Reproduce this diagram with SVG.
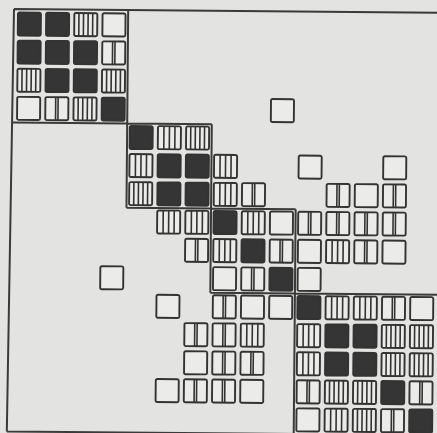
<svg xmlns="http://www.w3.org/2000/svg" width="437" height="433" viewBox="0 0 437 433">
<style>
.bx{fill:#ebebe9;stroke:#333;stroke-width:1.9}
.fl{fill:#353535;stroke:#333;stroke-width:1.9}
.st{fill:none;stroke:#333;stroke-width:1.6}
.fr{fill:none;stroke:#3a3a3a;stroke-width:2}
</style>
<defs>
<g id="E"><rect class="bx" x="0" y="0" width="23" height="23" rx="1.5"/></g>
<g id="F"><rect class="fl" x="0" y="0" width="23" height="23" rx="1.5"/></g>
<g id="A"><rect class="bx" x="0" y="0" width="23" height="23" rx="1.5"/><path class="st" d="M10.3 0V23M12.7 0V23"/></g>
<g id="B"><rect class="bx" x="0" y="0" width="23" height="23" rx="1.5"/><path class="st" d="M6 0V23M11.5 0V23M17 0V23"/></g>
<g id="C"><rect class="bx" x="0" y="0" width="23" height="23" rx="1.5"/><path class="st" d="M4.6 0V23M9.2 0V23M13.8 0V23M18.4 0V23"/></g>
</defs>
<rect x="0" y="0" width="437" height="433" fill="#e3e3e1"/>
<g transform="rotate(0.5 14 9)">
<g id="frame" class="fr">
<path d="M14 9H445M14 9L10.5 431.5M10.5 431.5H445"/>
<path d="M128.2 9V206.7M14 122.4H212.8M212.8 122.4V291M128.2 206.7H297.4M297.4 206.7V440M212.8 291H445"/>
</g>
<g id="block1">
<use id="r0c0" href="#F" x="18" y="12.5"/>
<use id="r0c1" href="#F" x="46.2" y="12.5"/>
<use id="r0c2" href="#C" x="74.4" y="12.5"/>
<use id="r0c3" href="#E" x="102.6" y="12.5"/>
<use id="r1c0" href="#F" x="18" y="40.6"/>
<use id="r1c1" href="#F" x="46.2" y="40.6"/>
<use id="r1c2" href="#F" x="74.4" y="40.6"/>
<use id="r1c3" href="#A" x="102.6" y="40.6"/>
<use id="r2c0" href="#C" x="18" y="68.7"/>
<use id="r2c1" href="#F" x="46.2" y="68.7"/>
<use id="r2c2" href="#F" x="74.4" y="68.7"/>
<use id="r2c3" href="#C" x="102.6" y="68.7"/>
<use id="r3c0" href="#E" x="18" y="96.8"/>
<use id="r3c1" href="#A" x="46.2" y="96.8"/>
<use id="r3c2" href="#C" x="74.4" y="96.8"/>
<use id="r3c3" href="#F" x="102.6" y="96.8"/>
</g>
<g id="block2">
<use id="r4c4" href="#F" x="130.8" y="124.9"/>
<use id="r4c5" href="#B" x="159" y="124.9"/>
<use id="r4c6" href="#C" x="187.2" y="124.9"/>
<use id="r5c4" href="#B" x="130.8" y="153"/>
<use id="r5c5" href="#F" x="159" y="153"/>
<use id="r5c6" href="#F" x="187.2" y="153"/>
<use id="r6c4" href="#C" x="130.8" y="181.1"/>
<use id="r6c5" href="#F" x="159" y="181.1"/>
<use id="r6c6" href="#F" x="187.2" y="181.1"/>
</g>
<g id="block3">
<use id="r7c7" href="#F" x="215.4" y="209.2"/>
<use id="r7c8" href="#B" x="243.6" y="209.2"/>
<use id="r7c9" href="#E" x="271.8" y="209.2"/>
<use id="r8c7" href="#B" x="215.4" y="237.3"/>
<use id="r8c8" href="#F" x="243.6" y="237.3"/>
<use id="r8c9" href="#A" x="271.8" y="237.3"/>
<use id="r9c7" href="#E" x="215.4" y="265.4"/>
<use id="r9c8" href="#A" x="243.6" y="265.4"/>
<use id="r9c9" href="#F" x="271.8" y="265.4"/>
</g>
<g id="block4">
<use id="r10c10" href="#F" x="300" y="293.5"/>
<use id="r10c11" href="#B" x="328.2" y="293.5"/>
<use id="r10c12" href="#B" x="356.4" y="293.5"/>
<use id="r10c13" href="#A" x="384.6" y="293.5"/>
<use id="r10c14" href="#E" x="412.8" y="293.5"/>
<use id="r11c10" href="#B" x="300" y="321.6"/>
<use id="r11c11" href="#F" x="328.2" y="321.6"/>
<use id="r11c12" href="#F" x="356.4" y="321.6"/>
<use id="r11c13" href="#C" x="384.6" y="321.6"/>
<use id="r11c14" href="#C" x="412.8" y="321.6"/>
<use id="r12c10" href="#B" x="300" y="349.7"/>
<use id="r12c11" href="#F" x="328.2" y="349.7"/>
<use id="r12c12" href="#F" x="356.4" y="349.7"/>
<use id="r12c13" href="#C" x="384.6" y="349.7"/>
<use id="r12c14" href="#C" x="412.8" y="349.7"/>
<use id="r13c10" href="#A" x="300" y="377.8"/>
<use id="r13c11" href="#C" x="328.2" y="377.8"/>
<use id="r13c12" href="#C" x="356.4" y="377.8"/>
<use id="r13c13" href="#F" x="384.6" y="377.8"/>
<use id="r13c14" href="#A" x="412.8" y="377.8"/>
<use id="r14c10" href="#E" x="300" y="405.9"/>
<use id="r14c11" href="#B" x="328.2" y="405.9"/>
<use id="r14c12" href="#C" x="356.4" y="405.9"/>
<use id="r14c13" href="#A" x="384.6" y="405.9"/>
<use id="r14c14" href="#F" x="412.8" y="405.9"/>
</g>
<g id="offdiagonal">
<use id="r3c9" href="#E" x="271.8" y="96.8"/>
<use id="r5c7" href="#B" x="215.4" y="153"/>
<use id="r5c10" href="#E" x="300" y="153"/>
<use id="r5c13" href="#E" x="384.6" y="153"/>
<use id="r6c7" href="#B" x="215.4" y="181.1"/>
<use id="r6c8" href="#A" x="243.6" y="181.1"/>
<use id="r6c11" href="#A" x="328.2" y="181.1"/>
<use id="r6c12" href="#E" x="356.4" y="181.1"/>
<use id="r6c13" href="#A" x="384.6" y="181.1"/>
<use id="r7c5" href="#B" x="159" y="209.2"/>
<use id="r7c6" href="#B" x="187.2" y="209.2"/>
<use id="r7c10" href="#A" x="300" y="209.2"/>
<use id="r7c11" href="#A" x="328.2" y="209.2"/>
<use id="r7c12" href="#A" x="356.4" y="209.2"/>
<use id="r7c13" href="#A" x="384.6" y="209.2"/>
<use id="r8c6" href="#A" x="187.2" y="237.3"/>
<use id="r8c10" href="#E" x="300" y="237.3"/>
<use id="r8c11" href="#B" x="328.2" y="237.3"/>
<use id="r8c12" href="#A" x="356.4" y="237.3"/>
<use id="r8c13" href="#E" x="384.6" y="237.3"/>
<use id="r9c3" href="#E" x="102.6" y="265.4"/>
<use id="r9c10" href="#E" x="300" y="265.4"/>
<use id="r10c5" href="#E" x="159" y="293.5"/>
<use id="r10c7" href="#A" x="215.4" y="293.5"/>
<use id="r10c8" href="#E" x="243.6" y="293.5"/>
<use id="r10c9" href="#E" x="271.8" y="293.5"/>
<use id="r11c6" href="#A" x="187.2" y="321.6"/>
<use id="r11c7" href="#A" x="215.4" y="321.6"/>
<use id="r11c8" href="#B" x="243.6" y="321.6"/>
<use id="r12c6" href="#E" x="187.2" y="349.7"/>
<use id="r12c7" href="#A" x="215.4" y="349.7"/>
<use id="r12c8" href="#A" x="243.6" y="349.7"/>
<use id="r13c5" href="#E" x="159" y="377.8"/>
<use id="r13c6" href="#A" x="187.2" y="377.8"/>
<use id="r13c7" href="#A" x="215.4" y="377.8"/>
<use id="r13c8" href="#E" x="243.6" y="377.8"/>
</g>
</g>
</svg>
